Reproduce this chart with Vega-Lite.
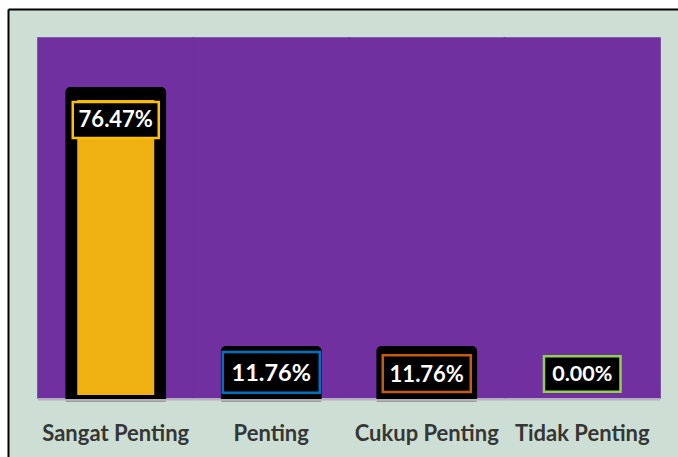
{
  "$schema": "https://vega.github.io/schema/vega-lite/v6.json",
  "width": 670,
  "height": 448,
  "autosize": {"type": "none"},
  "padding": {"left": 8, "top": 9, "right": 0, "bottom": 0},
  "background": "#ffffff",
  "config": {
    "view": {"stroke": null, "fill": "#cddfd4"},
    "axisY": {"labels": false, "ticks": false, "grid": false, "domainColor": "#000000", "domainWidth": 2},
    "font": "Lato"
  },
  "data": {"values": [
    {"cat": "Sangat Penting", "v": 0.7647},
    {"cat": "Penting", "v": 0.1176},
    {"cat": "Cukup Penting", "v": 0.1176},
    {"cat": "Tidak Penting", "v": 0}
  ]},
  "resolve": {"axis": {"x": "independent"}},
  "layer": [
    {
      "mark": {"type": "bar", "color": "#7030a0", "stroke": "#7030a0", "strokeWidth": 1.6},
      "encoding": {
        "x": {"field": "cat", "type": "nominal", "sort": null,
          "scale": {"domain": ["Sangat Penting", "Penting", "Cukup Penting", "Tidak Penting"], "paddingInner": 0, "paddingOuter": 0.15434, "align": 0.625},
          "axis": {"orient": "top", "labels": false, "ticks": false, "grid": false, "domain": true, "domainColor": "#000000", "domainWidth": 2, "title": null}},
        "y": {"datum": 0.9, "type": "quantitative", "title": null, "scale": {"domain": [-0.1475, 0.9725], "nice": false, "zero": false}},
        "y2": {"datum": 0}
      }
    },
    {
      "mark": {"type": "bar", "color": "#b7aec3", "y2Offset": 2.5},
      "encoding": {
        "x": {"field": "cat", "type": "nominal", "sort": null,
          "axis": {"orient": "bottom", "domain": false, "ticks": false, "grid": false, "labelFontSize": 22, "labelFontWeight": "bold", "labelColor": "#363636", "labelPadding": -17, "labelBaseline": "alphabetic", "labelAngle": 0, "labelLimit": 0, "labelOverlap": false, "labelFont": "Lato", "title": null}},
        "y": {"datum": 0, "type": "quantitative", "title": null},
        "y2": {"datum": 0}
      }
    },
    {
      "transform": [{"filter": "datum.v > 0"}],
      "mark": {"type": "bar", "color": "#9c9c9c", "width": 100, "yOffset": 2.5, "y2Offset": 4},
      "encoding": {
        "x": {"field": "cat", "type": "nominal", "sort": null, "axis": null},
        "y": {"datum": 0, "type": "quantitative", "title": null},
        "y2": {"datum": 0}
      }
    },
    {
      "transform": [{"filter": "datum.v > 0"}],
      "mark": {"type": "bar", "color": "#000000", "width": 100.7, "cornerRadiusTopLeft": 5, "cornerRadiusTopRight": 5, "yOffset": -5, "y2Offset": 1},
      "encoding": {
        "x": {"field": "cat", "type": "nominal", "sort": null, "axis": null},
        "y": {"field": "v", "type": "quantitative", "title": null},
        "y2": {"datum": 0}
      }
    },
    {
      "transform": [{"filter": "datum.cat == 'Sangat Penting'"}],
      "mark": {"type": "bar", "color": "#efb111", "width": 77, "yOffset": 8, "y2Offset": -3},
      "encoding": {
        "x": {"field": "cat", "type": "nominal", "sort": null, "axis": null},
        "y": {"field": "v", "type": "quantitative", "title": null},
        "y2": {"datum": 0}
      }
    },
    {
      "transform": [{"filter": "datum.cat == 'Sangat Penting'"}],
      "layer": [
        {
          "mark": {"type": "bar", "fill": "#000000", "stroke": "#ffc000", "strokeWidth": 2.5, "width": 86, "yOffset": 10, "y2Offset": 46},
          "encoding": {
            "x": {"field": "cat", "type": "nominal", "sort": null, "axis": null},
            "y": {"field": "v", "type": "quantitative", "title": null},
            "y2": {"field": "v"}
          }
        },
        {
          "mark": {"type": "text", "color": "#ffffff", "fontWeight": "bold", "fontSize": 22, "font": "Lato", "baseline": "middle", "align": "center", "yOffset": 28},
          "encoding": {
            "x": {"field": "cat", "type": "nominal", "sort": null, "axis": null},
            "y": {"field": "v", "type": "quantitative", "title": null},
            "text": {"field": "v", "type": "quantitative", "format": ".2%"}
          }
        }
      ]
    },
    {
      "transform": [{"filter": "datum.cat == 'Penting'"}],
      "layer": [
        {
          "mark": {"type": "bar", "fill": "#000000", "stroke": "#0070c0", "strokeWidth": 2.5, "width": 97, "yOffset": 1, "y2Offset": 41.7},
          "encoding": {
            "x": {"field": "cat", "type": "nominal", "sort": null, "axis": null},
            "y": {"field": "v", "type": "quantitative", "title": null},
            "y2": {"field": "v"}
          }
        },
        {
          "mark": {"type": "text", "color": "#ffffff", "fontWeight": "bold", "fontSize": 23.5, "font": "Lato", "baseline": "middle", "align": "center", "yOffset": 23.2},
          "encoding": {
            "x": {"field": "cat", "type": "nominal", "sort": null, "axis": null},
            "y": {"field": "v", "type": "quantitative", "title": null},
            "text": {"field": "v", "type": "quantitative", "format": ".2%"}
          }
        }
      ]
    },
    {
      "transform": [{"filter": "datum.cat == 'Cukup Penting'"}],
      "layer": [
        {
          "mark": {"type": "bar", "fill": "#000000", "stroke": "#c55a11", "strokeWidth": 2.5, "width": 88, "yOffset": 4.3, "y2Offset": 41},
          "encoding": {
            "x": {"field": "cat", "type": "nominal", "sort": null, "axis": null},
            "y": {"field": "v", "type": "quantitative", "title": null},
            "y2": {"field": "v"}
          }
        },
        {
          "mark": {"type": "text", "color": "#ffffff", "fontWeight": "bold", "fontSize": 22, "font": "Lato", "baseline": "middle", "align": "center", "yOffset": 23.7},
          "encoding": {
            "x": {"field": "cat", "type": "nominal", "sort": null, "axis": null},
            "y": {"field": "v", "type": "quantitative", "title": null},
            "text": {"field": "v", "type": "quantitative", "format": ".2%"}
          }
        }
      ]
    },
    {
      "transform": [{"filter": "datum.cat == 'Tidak Penting'"}],
      "layer": [
        {
          "mark": {"type": "bar", "fill": "#000000", "stroke": "#92d050", "strokeWidth": 2.5, "width": 76.5, "yOffset": -41.7, "y2Offset": -6.3},
          "encoding": {
            "x": {"field": "cat", "type": "nominal", "sort": null, "axis": null},
            "y": {"field": "v", "type": "quantitative", "title": null},
            "y2": {"field": "v"}
          }
        },
        {
          "mark": {"type": "text", "color": "#ffffff", "fontWeight": "bold", "fontSize": 21.5, "font": "Lato", "baseline": "middle", "align": "center", "yOffset": -22.7},
          "encoding": {
            "x": {"field": "cat", "type": "nominal", "sort": null, "axis": null},
            "y": {"field": "v", "type": "quantitative", "title": null},
            "text": {"field": "v", "type": "quantitative", "format": ".2%"}
          }
        }
      ]
    }
  ]
}
